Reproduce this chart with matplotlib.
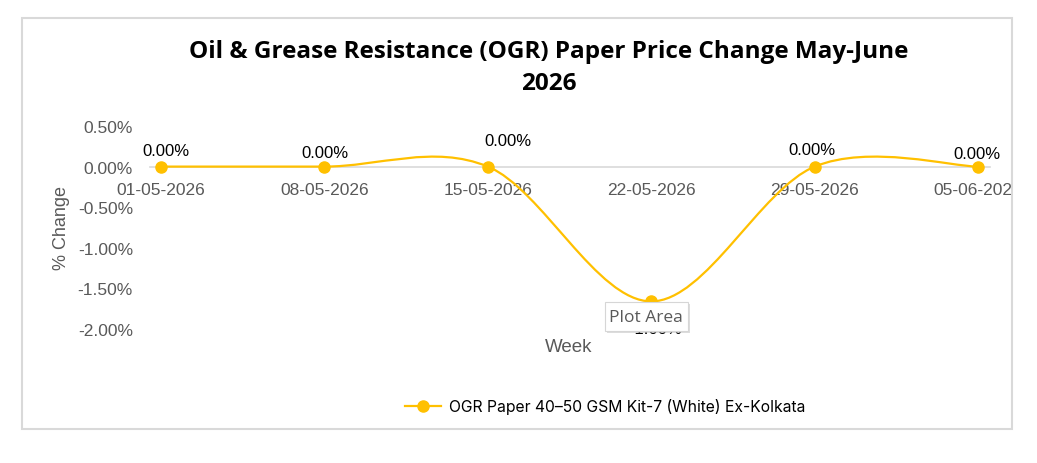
import matplotlib
matplotlib.use("Agg")
import matplotlib.pyplot as plt
import numpy as np
from matplotlib.path import Path
from matplotlib.patches import PathPatch, Rectangle
from matplotlib.lines import Line2D

weeks = ["01-05-2026", "08-05-2026", "15-05-2026", "22-05-2026", "29-05-2026", "05-06-2026"]
pct_change = [0.00, 0.00, 0.00, -1.66, 0.00, 0.00]
y_ticks = [0.5, 0.0, -0.5, -1.0, -1.5, -2.0]
series_name = "OGR Paper 40\u201350 GSM Kit-7 (White) Ex-Kolkata"
title = "Oil & Grease Resistance (OGR) Paper Price Change May-June\n2026"

# label offsets in pixels (dx, dy) relative to the point
label_offsets_px = [(5, 16), (0, 14), (20, 26), (4, -27), (-3, 17), (-1, 13)]

GOLD = "#FFC000"
GRAY = "#595959"
FONT = "Liberation Sans"

W, H = 1037, 464
fig = plt.figure(figsize=(W / 100, H / 100), dpi=100)
fig.patch.set_facecolor("white")

ax_left, ax_right = 149.6, 989.5
ax_top, ax_bottom = 127, 330
ax = fig.add_axes([ax_left / W, 1 - ax_bottom / H, (ax_right - ax_left) / W, (ax_bottom - ax_top) / H])
ax.set_facecolor("none")

x = np.arange(len(weeks), dtype=float)
y = np.array(pct_change, dtype=float)

# smoothed line (Catmull-Rom as cubic Bezier, like Excel's smoothed line)
pts = np.column_stack([x, y])
verts = [tuple(pts[0])]
codes = [Path.MOVETO]
n = len(pts)
for i in range(n - 1):
    p0 = pts[i - 1] if i > 0 else pts[i]
    p1 = pts[i]
    p2 = pts[i + 1]
    p3 = pts[i + 2] if i + 2 < n else pts[i + 1]
    c1 = p1 + (p2 - p0) / 6.0
    c2 = p2 - (p3 - p1) / 6.0
    verts += [tuple(c1), tuple(c2), tuple(p2)]
    codes += [Path.CURVE4] * 3
ax.add_patch(PathPatch(Path(verts, codes), facecolor="none", edgecolor=GOLD, lw=1.6, zorder=3))
ax.plot(x, y, linestyle="none", marker="o", markersize=8, color=GOLD, zorder=4)

ax.set_xlim(-0.07, 5.07)
ax.set_ylim(-2.0, 0.5)
for s in ["top", "right", "left"]:
    ax.spines[s].set_visible(False)
ax.spines["bottom"].set_position(("data", 0))
ax.spines["bottom"].set_color("#D9D9D9")
ax.spines["bottom"].set_linewidth(1.2)
ax.spines["bottom"].set_zorder(1)

ax.set_xticks(x)
ax.set_xticklabels(weeks, fontsize=12.5, color=GRAY, family=FONT)
ax.set_yticks(y_ticks)
ax.set_yticklabels([f"{v:.2f}%" for v in y_ticks], fontsize=12.5, color=GRAY, family=FONT)
ax.tick_params(axis="both", length=0)
ax.tick_params(axis="x", pad=11)
ax.tick_params(axis="y", pad=12)

for xi, yi, (dx, dy) in zip(x, y, label_offsets_px):
    ax.annotate(f"{yi:.2f}%", (xi, yi), xytext=(dx * 0.72, dy * 0.72), textcoords="offset points",
                ha="center", va="center", fontsize=12, color="black", family=FONT, zorder=5)

# axis titles
fig.text(62 / W, 1 - 228 / H, "% Change", rotation=90, ha="center", va="center",
         fontsize=13, color=GRAY, family=FONT)
fig.text(569 / W, 1 - 348 / H, "Week", ha="center", va="center", fontsize=13.5, color=GRAY, family=FONT)

# title
fig.text(549 / W, 1 - 68 / H, title, ha="center", va="center", fontsize=17.5, fontweight="bold",
         color="black", family="Open Sans", linespacing=1.45)

# legend
leg_handle = Line2D([], [], color=GOLD, lw=1.6, marker="o", markersize=8)
fig.legend([leg_handle], [series_name], loc="center", bbox_to_anchor=(605 / W, 1 - 407 / H),
           frameon=False, prop={"family": "Inter", "size": 11.3}, handlelength=2.3, handletextpad=0.5)

# tooltip artefact
fig.add_artist(Rectangle((607 / W, 1 - 334 / H), 83 / W, 29 / H, transform=fig.transFigure,
                         facecolor="#BDBDBD", edgecolor="none", alpha=0.5, zorder=11))
fig.add_artist(Rectangle((605 / W, 1 - 332 / H), 83 / W, 29 / H, transform=fig.transFigure,
                         facecolor="white", edgecolor="#D6D6D6", lw=0.8, zorder=11.5))
fig.text(646 / W, 1 - 318 / H, "Plot Area", ha="center", va="center", fontsize=12.5, color=GRAY,
         family="Open Sans", zorder=12)

# mask outside chart border and draw border
fig.add_artist(Rectangle((1013 / W, 0), 1 - 1013 / W, 1, transform=fig.transFigure,
                         facecolor="white", edgecolor="none", zorder=10))
fig.add_artist(Rectangle((22 / W, 1 - 430 / H), (1012 - 22) / W, (430 - 19) / H, transform=fig.transFigure,
                         facecolor="none", edgecolor="#D9D9D9", lw=1.5, zorder=11))

fig.savefig("out.png", dpi=100, facecolor="white")
